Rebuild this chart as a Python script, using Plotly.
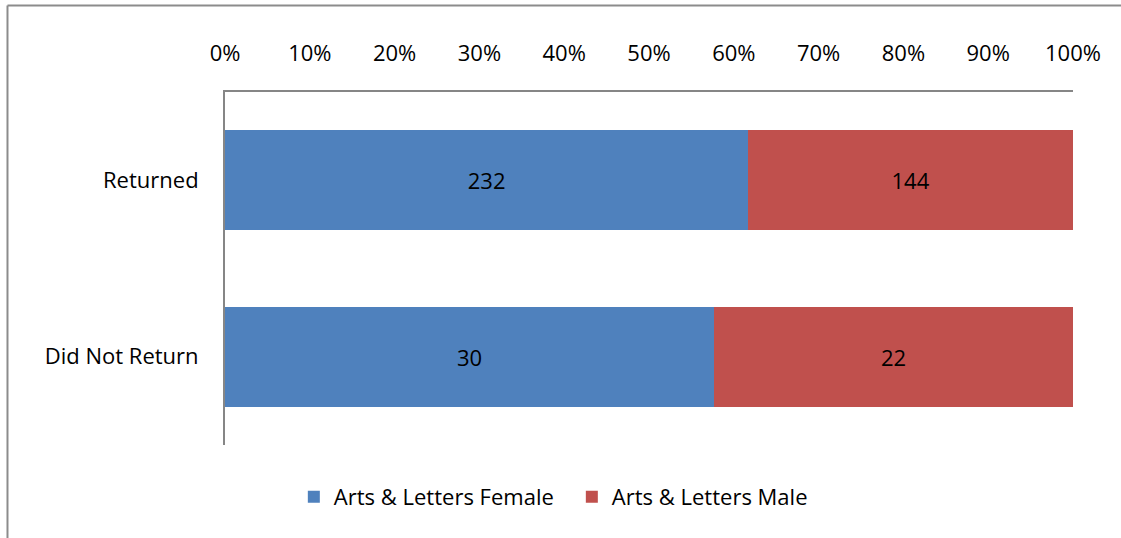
import plotly.graph_objects as go

categories = ["Did Not Return", "Returned"]
female = [30, 232]
male = [22, 144]
series_names = ["Arts & Letters Female", "Arts & Letters Male"]
tick_vals = [0, 10, 20, 30, 40, 50, 60, 70, 80, 90, 100]
tick_text = [f"{v}%" for v in tick_vals]

totals = [f + m for f, m in zip(female, male)]
female_pct = [f / t * 100 for f, t in zip(female, totals)]
male_pct = [m / t * 100 for m, t in zip(male, totals)]

FONT = "Open Sans"
FS = 22

fig = go.Figure()
fig.add_trace(go.Bar(
    y=categories, x=female_pct, orientation="h", name=series_names[0],
    marker=dict(color="#4F81BD", line=dict(width=0)),
    text=[str(v) for v in female], textposition="inside", insidetextanchor="middle",
    textfont=dict(color="black", size=FS, family=FONT), hoverinfo="skip",
))
fig.add_trace(go.Bar(
    y=categories, x=male_pct, orientation="h", name=series_names[1],
    marker=dict(color="#C0504D", line=dict(width=0)),
    text=[str(v) for v in male], textposition="inside", insidetextanchor="middle",
    textfont=dict(color="black", size=FS, family=FONT), hoverinfo="skip",
))

frame = dict(color="#8C8C8C", width=2)
fig.update_layout(
    barmode="stack",
    bargap=0.433,
    width=1121, height=538,
    margin=dict(l=225, r=48, t=92, b=93),
    paper_bgcolor="white", plot_bgcolor="white",
    font=dict(family=FONT, size=FS, color="black"),
    showlegend=True,
    legend=dict(orientation="h", x=0.409, xanchor="center", y=-0.147, yanchor="middle",
                font=dict(size=FS, family=FONT), traceorder="normal",
                itemwidth=30, tracegroupgap=0, entrywidth=233),
    xaxis=dict(side="top", range=[0, 100], tickvals=tick_vals, ticktext=tick_text,
               showgrid=False, zeroline=False, showline=True, linecolor="#868686",
               linewidth=2, ticks="", ticklabelstandoff=20, fixedrange=True),
    yaxis=dict(showgrid=False, zeroline=False, showline=True, linecolor="#868686",
               linewidth=2, ticks="", ticklabelstandoff=20, fixedrange=True),
    shapes=[
        dict(type="line", xref="paper", yref="paper", x0=-0.2565, x1=-0.2565,
             y0=-0.5, y1=1.245, line=frame, layer="below"),
        dict(type="line", xref="paper", yref="paper", x0=-0.2565, x1=1.0566,
             y0=1.245, y1=1.245, line=frame, layer="below"),
    ],
)

fig.write_html("out.html", config={"displayModeBar": False},
               post_script="document.body.style.margin='0';document.body.style.overflow='hidden';")
